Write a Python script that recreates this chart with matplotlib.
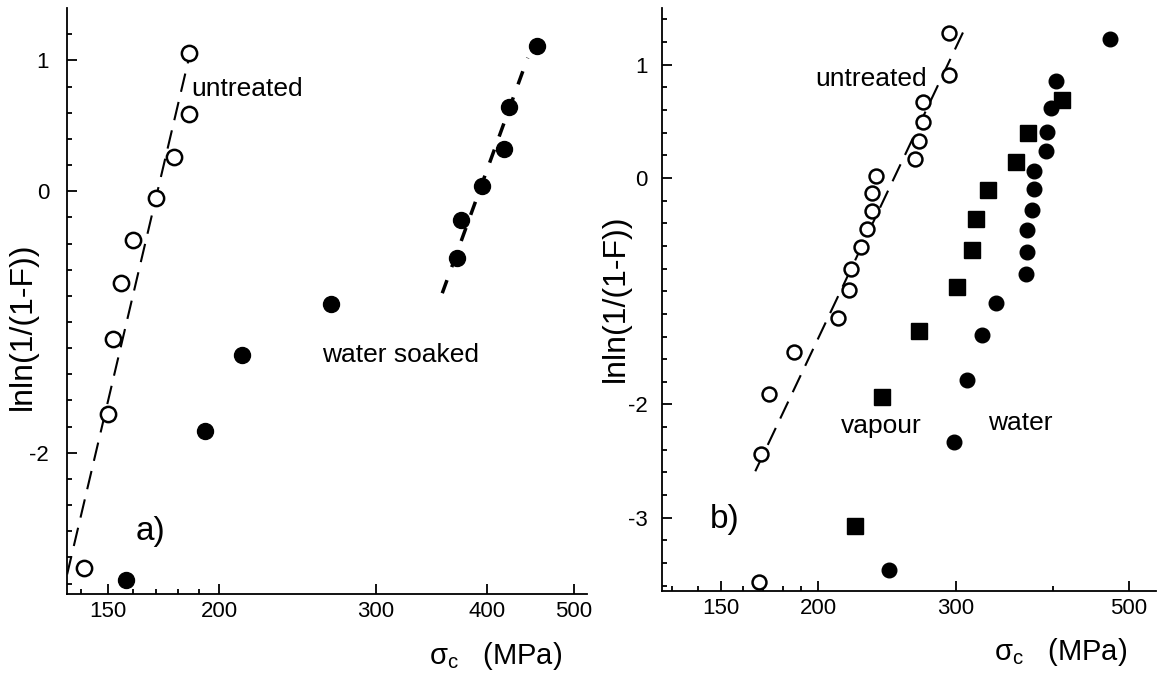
import matplotlib
matplotlib.use("Agg")
import matplotlib.pyplot as plt
from matplotlib.ticker import NullFormatter

plt.rcParams['font.family'] = ['Liberation Sans', 'DejaVu Sans']
plt.rcParams['axes.unicode_minus'] = False

# panel a) values
a_untreated_x = [141, 150, 152, 155, 160, 170, 178, 185, 185]
a_untreated_y = [-2.88, -1.70, -1.13, -0.70, -0.37, -0.05, 0.26, 0.59, 1.06]
a_soaked_x = [157, 193, 212, 267, 370, 374, 395, 418, 423, 455]
a_soaked_y = [-2.97, -1.83, -1.25, -0.86, -0.51, -0.22, 0.04, 0.32, 0.64, 1.11]
a_fit_untreated_x = [135, 185]
a_fit_untreated_y = [-2.93, 1.02]
a_fit_soaked_x = [356, 444]
a_fit_soaked_y = [-0.78, 1.02]

# panel b)
b_untreated_x = [168, 169, 173, 186, 212, 219, 220, 227, 231, 234, 234, 237,
                 266, 269, 272, 272, 293.5, 294]
b_untreated_y = [-3.57, -2.44, -1.91, -1.54, -1.24, -0.99, -0.80, -0.61, -0.45,
                 -0.29, -0.13, 0.015, 0.17, 0.33, 0.49, 0.67, 0.91, 1.28]
b_vapour_x = [223, 241.5, 269, 301, 315, 318, 330, 358, 371, 410]
b_vapour_y = [-3.07, -1.93, -1.35, -0.96, -0.64, -0.36, -0.11, 0.14, 0.40, 0.685]
b_water_x = [246, 298, 310, 324, 338, 369, 370, 370, 375, 378, 378, 391, 393,
             397, 403, 472]
b_water_y = [-3.46, -2.33, -1.78, -1.39, -1.10, -0.85, -0.65, -0.46, -0.28,
             -0.10, 0.06, 0.235, 0.41, 0.62, 0.86, 1.23]
b_fit_x = [166, 308]
b_fit_y = [-2.59, 1.32]

a_xticks = [150, 200, 300, 400, 500]
a_xminor = [140, 160, 170, 180, 190]
a_yticks = [-2, 0, 1]
b_xticks = [150, 200, 300, 500]
b_xminor = [130, 140, 160, 170, 180, 190, 400]
b_yticks = [-3, -2, 0, 1]
y_minor_a = [-3.0, -2.8, -2.6, -2.4, -2.2, -1.8, -1.6, -1.4, -1.2, -1.0, -0.8,
             -0.6, -0.4, -0.2, 0.2, 0.4, 0.6, 0.8, 1.2]
y_minor_b = [-3.6, -3.4, -3.2, -2.8, -2.6, -2.4, -2.2, -1.8, -1.6, -1.4, -1.2,
             -1.0, -0.8, -0.6, -0.4, -0.2, 0.2, 0.4, 0.6, 0.8, 1.2, 1.4]

XLABEL = r'$\mathregular{\sigma_c}$   (MPa)'
YLABEL = 'lnln(1/(1-F))'


def style_axes(ax, xticks, xminor, yticks, yminor, ypad):
    ax.set_xscale('log')
    for s in ('top', 'right'):
        ax.spines[s].set_visible(False)
    for s in ('left', 'bottom'):
        ax.spines[s].set_linewidth(1.3)
    ax.set_xticks(xticks)
    ax.set_xticklabels([str(t) for t in xticks])
    ax.set_xticks(xminor, minor=True)
    ax.xaxis.set_minor_formatter(NullFormatter())
    ax.set_yticks(yticks)
    ax.set_yticklabels([str(t) for t in yticks])
    ax.set_yticks(yminor, minor=True)
    ax.tick_params(which='both', direction='in', labelsize=16, width=1.3)
    ax.tick_params(which='major', length=7)
    ax.tick_params(which='minor', length=3.5)
    ax.tick_params(axis='x', which='major', pad=5)
    ax.tick_params(axis='y', which='major', pad=ypad)


def put_labels(ax, xl_x, xl_y, yl_x, yl_y):
    ax.set_xlabel(XLABEL, fontsize=21)
    ax.xaxis.set_label_coords(xl_x, xl_y)
    ax.xaxis.label.set_ha('right')
    ax.xaxis.label.set_va('baseline')
    ax.set_ylabel(YLABEL, fontsize=23)
    ax.yaxis.set_label_coords(yl_x, yl_y)


fig = plt.figure(figsize=(11.57, 6.75), dpi=100)

# ---- panel a
ax = fig.add_axes([0.058, 0.12, 0.449, 0.868])
ax.plot(a_fit_untreated_x, a_fit_untreated_y, color='black', lw=1.5,
        dashes=(9, 5))
ax.plot(a_fit_soaked_x, a_fit_soaked_y, color='black', lw=2.5, dashes=(4, 4))
ax.plot(a_untreated_x, a_untreated_y, 'o', ms=11, mfc='white', mec='black',
        mew=1.8, ls='none', clip_on=False)
ax.plot(a_soaked_x, a_soaked_y, 'o', ms=11.5, color='black', ls='none',
        clip_on=False)
ax.set_xlim(135, 517)
ax.set_ylim(-3.08, 1.40)
style_axes(ax, a_xticks, a_xminor, a_yticks, y_minor_a, 13)
ax.text(186, 0.78, 'untreated', fontsize=19, va='center')
ax.text(261, -1.25, 'water soaked', fontsize=19, va='center')
ax.text(161, -2.60, 'a)', fontsize=24, va='center')
put_labels(ax, 0.952, -0.119, -0.057, 0.457)

# ---- panel b
bx = fig.add_axes([0.572, 0.124, 0.427, 0.864])
bx.plot(b_fit_x, b_fit_y, color='black', lw=1.5, dashes=(9, 5))
bx.plot(b_untreated_x, b_untreated_y, 'o', ms=10, mfc='white', mec='black',
        mew=1.8, ls='none', clip_on=False)
bx.plot(b_vapour_x, b_vapour_y, 's', ms=11, color='black', ls='none',
        clip_on=False)
bx.plot(b_water_x, b_water_y, 'o', ms=10.5, color='black', ls='none',
        clip_on=False)
bx.set_xlim(126, 541)
bx.set_ylim(-3.65, 1.50)
style_axes(bx, b_xticks, b_xminor, b_yticks, y_minor_b, 10)
bx.text(198, 0.87, 'untreated', fontsize=19, va='center')
bx.text(214, -2.19, 'vapour', fontsize=19, va='center')
bx.text(330, -2.16, 'water', fontsize=19, va='center')
bx.text(145, -3.02, 'b)', fontsize=24, va='center')
put_labels(bx, 0.942, -0.117, -0.062, 0.503)

fig.savefig('out.png', dpi=100)
